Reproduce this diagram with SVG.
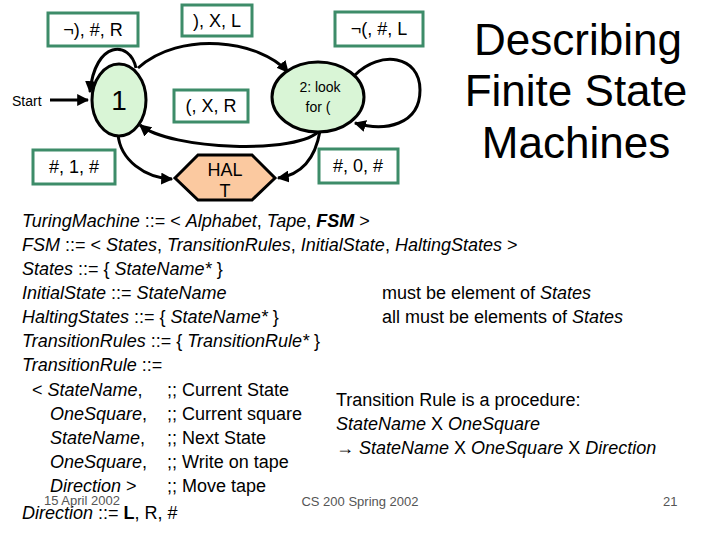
<svg xmlns="http://www.w3.org/2000/svg" width="720" height="540" viewBox="0 0 720 540">
<style>
text{font-family:"Liberation Sans",Arial,sans-serif;fill:#000}
.lb{fill:#fff;stroke:#3d8c69;stroke-width:3}
.lt{font-size:18px;text-anchor:middle}
.c{fill:none;stroke:#000;stroke-width:3}
.b{font-size:18px}
.i{font-style:italic}
.f{font-size:13px;fill:#555}
</style>
<defs><marker id="a" viewBox="0 0 10 10" refX="9" refY="5" markerWidth="4" markerHeight="4" orient="auto"><path d="M0,0L10,5L0,10z"/></marker></defs>
<rect width="720" height="540" fill="#fff"/>
<g id="connectors">
<path class="c" marker-end="url(#a)" d="M50,100H88"/>
<path class="c" marker-end="url(#a)" d="M136,68C130,40 95,40 90,92"/>
<path class="c" marker-end="url(#a)" d="M138,68C180,30 260,40 288,72"/>
<path class="c" marker-end="url(#a)" d="M320,130C300,155 170,150 140,125"/>
<path class="c" marker-end="url(#a)" d="M118,134C120,160 145,178 172,179"/>
<path class="c" marker-end="url(#a)" d="M320,131C315,160 300,175 278,178"/>
<path class="c" marker-end="url(#a)" d="M355,75C380,50 420,55 420,90C420,125 385,132 355,123"/>
</g>
<g id="state1"><ellipse cx="119" cy="100" rx="27" ry="36" fill="#d9f5d6" stroke="#000" stroke-width="3"/><text x="119" y="110" font-size="28" text-anchor="middle">1</text></g>
<g id="state2"><ellipse cx="318" cy="97" rx="46" ry="35" fill="#d9f5d6" stroke="#000" stroke-width="3"/><text x="320" y="92" font-size="14" text-anchor="middle" fill="#333">2: look</text><text x="318" y="112" font-size="14" text-anchor="middle" fill="#333">for (</text></g>
<g id="halt"><polygon points="175,178 198,155 252,155 275,178 252,200 198,200" fill="#fbc9a0" stroke="#000" stroke-width="3"/><text x="225" y="176" font-size="18" text-anchor="middle">HAL</text><text x="225" y="197" font-size="18" text-anchor="middle">T</text></g>
<text x="12" y="106" font-size="14">Start</text>
<g id="l1"><rect class="lb" x="48" y="13" width="90" height="33"/><text class="lt" x="93" y="36">¬), #, R</text></g>
<g id="l2"><rect class="lb" x="182" y="5" width="70" height="31"/><text class="lt" x="217" y="27">), X, L</text></g>
<g id="l3"><rect class="lb" x="335" y="12" width="88" height="34"/><text class="lt" x="379" y="35">¬(, #, L</text></g>
<g id="l4"><rect class="lb" x="174" y="90" width="74" height="32"/><text class="lt" x="211" y="112">(, X, R</text></g>
<g id="l5"><rect class="lb" x="33" y="150" width="82" height="34"/><text class="lt" x="74" y="173">#, 1, #</text></g>
<g id="l6"><rect class="lb" x="319" y="149" width="79" height="34"/><text class="lt" x="358" y="172">#, 0, #</text></g>
<g font-size="44" text-anchor="middle"><text x="578" y="55">Describing</text><text x="576" y="106">Finite State</text><text x="576" y="158">Machines</text></g>
<g class="b">
<text x="22" y="227"><tspan class="i">TuringMachine</tspan> ::= &lt; <tspan class="i">Alphabet</tspan>, <tspan class="i">Tape</tspan>, <tspan class="i" font-weight="bold">FSM</tspan> &gt;</text>
<text x="22" y="251"><tspan class="i">FSM</tspan> ::= &lt; <tspan class="i">States</tspan>, <tspan class="i">TransitionRules</tspan>, <tspan class="i">InitialState</tspan>, <tspan class="i">HaltingStates</tspan> &gt;</text>
<text x="22" y="275"><tspan class="i">States</tspan> ::= { <tspan class="i">StateName*</tspan> }</text>
<text x="22" y="299"><tspan class="i">InitialState</tspan> ::= <tspan class="i">StateName</tspan></text>
<text x="382" y="299">must be element of <tspan class="i">States</tspan></text>
<text x="22" y="323"><tspan class="i">HaltingStates</tspan> ::= { <tspan class="i">StateName*</tspan> }</text>
<text x="382" y="323">all must be elements of <tspan class="i">States</tspan></text>
<text x="22" y="347"><tspan class="i">TransitionRules</tspan> ::= { <tspan class="i">TransitionRule*</tspan> }</text>
<text x="22" y="371"><tspan class="i">TransitionRule</tspan> ::=</text>
<text x="32" y="396">&lt; <tspan class="i">StateName</tspan>,</text>
<text x="50" y="420"><tspan class="i">OneSquare</tspan>,</text>
<text x="50" y="444"><tspan class="i">StateName</tspan>,</text>
<text x="50" y="468"><tspan class="i">OneSquare</tspan>,</text>
<text x="50" y="492"><tspan class="i">Direction</tspan> &gt;</text>
<text x="167" y="396">;; Current State</text>
<text x="167" y="420">;; Current square</text>
<text x="167" y="444">;; Next State</text>
<text x="167" y="468">;; Write on tape</text>
<text x="167" y="492">;; Move tape</text>
<text x="336" y="406">Transition Rule is a procedure:</text>
<text x="336" y="430"><tspan class="i">StateName</tspan> X <tspan class="i">OneSquare</tspan></text>
<text x="336" y="454">→ <tspan class="i">StateName</tspan> X <tspan class="i">OneSquare</tspan> X <tspan class="i">Direction</tspan></text>
<text x="22" y="519"><tspan class="i">Direction</tspan> ::= <tspan font-weight="bold">L</tspan>, R, #</text>
</g>
<text class="f" x="44" y="505">15 April 2002</text>
<text class="f" x="360" y="506" text-anchor="middle">CS 200 Spring 2002</text>
<text class="f" x="663" y="506">21</text>
</svg>
